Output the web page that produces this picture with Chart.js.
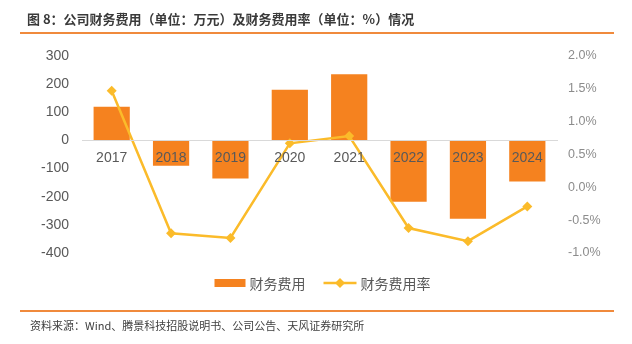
<!DOCTYPE html>
<html>
<head>
<meta charset="utf-8">
<script src="https://cdn.jsdelivr.net/npm/chart.js@4.4.1/dist/chart.umd.min.js"></script>
<style>
  html, body { margin: 0; padding: 0; background: #fff; }
  #wrap { position: relative; width: 632px; height: 344px; overflow: hidden; }
  #title { position: absolute; left: 27px; top: 9px; font: bold 13px "Noto Sans CJK SC", sans-serif; color: #3a3a3a; white-space: nowrap; }
  .rule { position: absolute; left: 20px; width: 594px; height: 2px; background: #f08a3c; }
  #source { position: absolute; left: 30px; top: 317px; font: 11px "Noto Sans CJK SC", sans-serif; color: #404040; white-space: nowrap; }
  canvas { position: absolute; left: 0; top: 0; }
</style>
</head>
<body>
<div id="wrap">
  <canvas id="chart" width="632" height="344"></canvas>
  <div id="title">图 8：公司财务费用（单位：万元）及财务费用率（单位：%）情况</div>
  <div class="rule" style="top:32px"></div>
  <div class="rule" style="top:310px"></div>
  <div id="source">资料来源：Wind、腾景科技招股说明书、公司公告、天风证券研究所</div>
</div>
<script>
// years on the x axis
const years = ["2017", "2018", "2019", "2020", "2021", "2022", "2023", "2024"];
// financial expense, 10k yuan (left axis)
const expense = [120, -90, -135, 180, 235, -218, -278, -146];
// financial expense ratio, % (right axis)
const expenseRate = [1.47, -0.70, -0.77, 0.67, 0.78, -0.62, -0.82, -0.29];

const barColor = '#f5821f';
const lineColor = '#fbbb2a';
const tickColor = '#595959';
const numFont = { family: '"Liberation Sans", "Noto Sans CJK SC", sans-serif', size: 14 };

// legend drawn by hand: box for the bars, line + diamond for the rate
const bottomLegend = {
  id: 'bottomLegend',
  afterDraw(chart) {
    const ctx = chart.ctx;
    const ds = chart.data.datasets;
    ctx.save();
    ctx.font = '14px "Noto Sans CJK SC", sans-serif';
    const y = 283;
    const w0 = ctx.measureText(ds[0].label).width;
    const w1 = ctx.measureText(ds[1].label).width;
    const total = 31 + 4 + w0 + 18 + 33 + 4 + w1;
    let x = (chart.chartArea.left + chart.chartArea.right) / 2 + 3 - total / 2;
    ctx.fillStyle = ds[0].backgroundColor;
    ctx.fillRect(x, y - 4, 31, 8);
    x += 35;
    ctx.fillStyle = tickColor;
    ctx.textBaseline = 'middle';
    ctx.fillText(ds[0].label, x, y + 1);
    x += w0 + 18;
    ctx.strokeStyle = ds[1].borderColor;
    ctx.lineWidth = 2.5;
    ctx.beginPath();
    ctx.moveTo(x, y);
    ctx.lineTo(x + 33, y);
    ctx.stroke();
    ctx.fillStyle = ds[1].borderColor;
    ctx.beginPath();
    ctx.moveTo(x + 16.5, y - 5);
    ctx.lineTo(x + 21.5, y);
    ctx.lineTo(x + 16.5, y + 5);
    ctx.lineTo(x + 11.5, y);
    ctx.closePath();
    ctx.fill();
    x += 37;
    ctx.fillStyle = tickColor;
    ctx.fillText(ds[1].label, x, y + 1);
    ctx.restore();
  }
};

new Chart(document.getElementById('chart'), {
  type: 'bar',
  data: {
    labels: years,
    datasets: [
      {
        label: '财务费用',
        data: expense,
        backgroundColor: barColor,
        yAxisID: 'y',
        barPercentage: 0.61,
        categoryPercentage: 1,
        order: 1
      },
      {
        type: 'line',
        label: '财务费用率',
        data: expenseRate,
        borderColor: lineColor,
        backgroundColor: lineColor,
        borderWidth: 2.5,
        pointStyle: 'rectRot',
        pointRadius: 5,
        pointBorderWidth: 0,
        tension: 0,
        yAxisID: 'y1',
        order: 0
      }
    ]
  },
  options: {
    responsive: false,
    animation: false,
    layout: { padding: { left: 0, right: 0, top: 56, bottom: 91 } },
    plugins: {
      legend: { display: false },
      tooltip: { enabled: false }
    },
    scales: {
      x: {
        position: { y: 0 },
        grid: { display: false, drawTicks: false },
        border: { display: true, color: '#d9d9d9', width: 1, z: 1 },
        ticks: { color: tickColor, font: numFont, padding: 9, z: 1 }
      },
      y: {
        position: 'left',
        min: -400,
        max: 300,
        grid: { display: false },
        border: { display: false },
        ticks: { stepSize: 100, color: tickColor, font: numFont, padding: 5 },
        afterFit(s) { s.width = 82; }
      },
      y1: {
        position: 'right',
        min: -1,
        max: 2,
        grid: { display: false },
        border: { display: false },
        ticks: {
          stepSize: 0.5,
          color: '#8c8c8c',
          font: { family: numFont.family, size: 12.5 },
          padding: 3,
          callback: v => v.toFixed(1) + '%'
        },
        afterFit(s) { s.width = 75; }
      }
    }
  },
  plugins: [bottomLegend]
});
</script>
</body>
</html>
